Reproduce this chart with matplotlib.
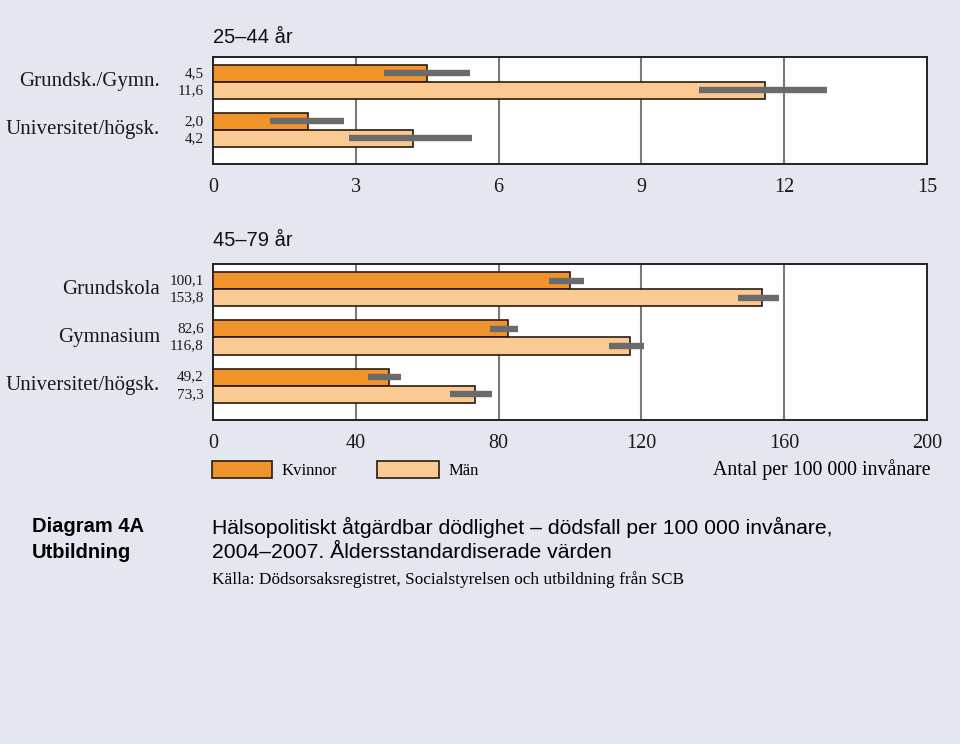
import numpy as np
import matplotlib.pyplot as plt

# data
young_groups = ["Grundsk./Gymn.", "Universitet/högsk."]
young_women = [4.5, 2.0]
young_men = [11.6, 4.2]
young_women_ci = [(3.6, 5.4), (1.2, 2.75)]
young_men_ci = [(10.2, 12.9), (2.85, 5.45)]

old_groups = ["Grundskola", "Gymnasium", "Universitet/högsk."]
old_women = [100.1, 82.6, 49.2]
old_men = [153.8, 116.8, 73.3]
old_women_ci = [(94.1, 103.9), (77.6, 85.4), (43.4, 52.7)]
old_men_ci = [(147.1, 158.5), (110.9, 120.7), (66.4, 78.2)]

young_ticks = [0, 3, 6, 9, 12, 15]
old_ticks = [0, 40, 80, 120, 160, 200]

BG = "#e4e7ef"
WOMEN = "#f0932b"
MEN = "#fbc992"
CI = "#6b6b6b"
SERIF = "Liberation Serif"
SANS = "Liberation Sans"

fig = plt.figure(figsize=(9.6, 7.44), dpi=100, facecolor=BG)


def panel(rect, groups, women, men, w_ci, m_ci, ticks, title):
    ax = fig.add_axes(rect)
    ax.set_facecolor("white")
    y = np.arange(len(groups))
    h = 0.355
    ax.barh(y - h / 2, women, height=h, color=WOMEN, edgecolor="#2a1a10", linewidth=1.2, zorder=3)
    ax.barh(y + h / 2, men, height=h, color=MEN, edgecolor="#2a1a10", linewidth=1.2, zorder=3)
    for i in range(len(groups)):
        ax.hlines(y[i] - h / 2, w_ci[i][0], w_ci[i][1], color=CI, linewidth=4.6, zorder=4)
        ax.hlines(y[i] + h / 2, m_ci[i][0], m_ci[i][1], color=CI, linewidth=4.6, zorder=4)
        ax.text(-0.074, y[i], groups[i], transform=ax.get_yaxis_transform(),
                ha="right", va="center", fontsize=15, family=SERIF, color="#1a1a1a")
        ax.text(-0.013, y[i] - h / 2, f"{women[i]:.1f}".replace(".", ","),
                transform=ax.get_yaxis_transform(), ha="right", va="center",
                fontsize=11, family=SERIF, color="#1a1a1a")
        ax.text(-0.013, y[i] + h / 2, f"{men[i]:.1f}".replace(".", ","),
                transform=ax.get_yaxis_transform(), ha="right", va="center",
                fontsize=11, family=SERIF, color="#1a1a1a")
    ax.set_ylim(len(groups) - 1 + 0.71, -0.52)
    ax.set_xlim(ticks[0], ticks[-1])
    ax.set_xticks(ticks)
    ax.set_xticklabels([str(t) for t in ticks], family=SERIF, fontsize=14.5, color="#1a1a1a")
    ax.tick_params(axis="x", length=0, pad=10)
    ax.set_yticks([])
    for t in ticks[1:-1]:
        ax.axvline(t, color="#7a7a7a", linewidth=1.5, zorder=1)
    for s in ax.spines.values():
        s.set_color("#222222")
        s.set_linewidth(1.4)
    ax.text(0, 1.09, title, transform=ax.transAxes, ha="left", va="bottom",
            fontsize=14.5, family=SANS, color="#111111")
    return ax


panel([0.2219, 0.7796, 0.7438, 0.1438], young_groups, young_women, young_men,
      young_women_ci, young_men_ci, young_ticks, "25–44 år")
panel([0.2219, 0.4355, 0.7438, 0.2097], old_groups, old_women, old_men,
      old_women_ci, old_men_ci, old_ticks, "45–79 år")

# legend
fig.patches.append(plt.Rectangle((212 / 960, 1 - 478 / 744), 60 / 960, 17 / 744,
                                 transform=fig.transFigure, facecolor=WOMEN,
                                 edgecolor="#2a1a10", linewidth=1.2))
fig.patches.append(plt.Rectangle((377 / 960, 1 - 478 / 744), 62 / 960, 17 / 744,
                                 transform=fig.transFigure, facecolor=MEN,
                                 edgecolor="#2a1a10", linewidth=1.2))
fig.text(282 / 960, 1 - 471 / 744, "Kvinnor", family=SERIF, fontsize=12, va="center")
fig.text(449 / 960, 1 - 471 / 744, "Män", family=SERIF, fontsize=12, va="center")
fig.text(931 / 960, 1 - 470 / 744, "Antal per 100 000 invånare", family=SERIF,
         fontsize=14.3, ha="right", va="center")

# caption
fig.text(32 / 960, 1 - 527 / 744, "Diagram 4A", family=SANS, fontsize=14.5,
         fontweight="bold", va="center")
fig.text(32 / 960, 1 - 552 / 744, "Utbildning", family=SANS, fontsize=14.5,
         fontweight="bold", va="center")
fig.text(212 / 960, 1 - 527 / 744,
         "Hälsopolitiskt åtgärdbar dödlighet – dödsfall per 100 000 invånare,",
         family=SANS, fontsize=15.2, va="center")
fig.text(212 / 960, 1 - 552 / 744, "2004–2007. Åldersstandardiserade värden",
         family=SANS, fontsize=15.2, va="center")
fig.text(212 / 960, 1 - 580 / 744,
         "Källa: Dödsorsaksregistret, Socialstyrelsen och utbildning från SCB",
         family=SERIF, fontsize=12.4, va="center")

fig.savefig("out.png", dpi=100, facecolor=BG)
